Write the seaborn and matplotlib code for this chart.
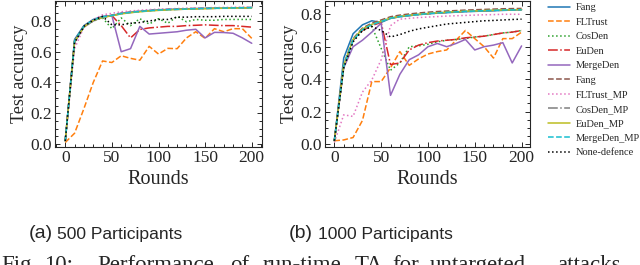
import numpy as np
import pandas as pd
import matplotlib
matplotlib.use('Agg')
import matplotlib.pyplot as plt
from matplotlib.ticker import MultipleLocator
import seaborn as sns

# rounds on the x axis
rounds = list(range(0, 201, 10))

labels = ['Fang', 'FLTrust', 'CosDen', 'EuDen', 'MergeDen', 'Fang',
          'FLTrust_MP', 'CosDen_MP', 'EuDen_MP', 'MergeDen_MP', 'None-defence']

# (a) 500 participants
fang_a = [0.02, 0.68, 0.77, 0.81, 0.83, 0.835, 0.85, 0.857, 0.863, 0.868, 0.872, 0.875, 0.877, 0.879, 0.881, 0.882, 0.883, 0.884, 0.885, 0.886, 0.887]
fltrust_a = [0.01, 0.07, 0.23, 0.40, 0.54, 0.53, 0.574, 0.557, 0.545, 0.635, 0.585, 0.622, 0.62, 0.69, 0.73, 0.687, 0.75, 0.73, 0.75, 0.75, 0.687]
cosden_a = [0.02, 0.66, 0.76, 0.80, 0.82, 0.75, 0.82, 0.77, 0.815, 0.78, 0.815, 0.785, 0.83, 0.795, 0.81, 0.805, 0.805, 0.81, 0.81, 0.81, 0.81]
euden_a = [0.02, 0.67, 0.765, 0.805, 0.825, 0.835, 0.77, 0.69, 0.745, 0.755, 0.76, 0.765, 0.765, 0.77, 0.772, 0.775, 0.772, 0.77, 0.77, 0.765, 0.76]
mergeden_a = [0.02, 0.66, 0.76, 0.80, 0.825, 0.835, 0.60, 0.62, 0.765, 0.715, 0.72, 0.725, 0.73, 0.74, 0.746, 0.69, 0.726, 0.725, 0.72, 0.69, 0.655]
fangmp_a = [0.02, 0.67, 0.765, 0.805, 0.825, 0.838, 0.85, 0.858, 0.864, 0.869, 0.873, 0.876, 0.878, 0.88, 0.882, 0.883, 0.884, 0.885, 0.886, 0.887, 0.888]
fltrustmp_a = [0.02, 0.62, 0.76, 0.81, 0.84, 0.85, 0.86, 0.865, 0.87, 0.874, 0.877, 0.879, 0.881, 0.883, 0.885, 0.886, 0.887, 0.888, 0.889, 0.89, 0.89]
cosdenmp_a = [0.02, 0.67, 0.765, 0.805, 0.825, 0.835, 0.847, 0.855, 0.861, 0.866, 0.87, 0.873, 0.875, 0.877, 0.879, 0.881, 0.882, 0.883, 0.884, 0.885, 0.886]
eudenmp_a = [0.02, 0.665, 0.762, 0.803, 0.823, 0.834, 0.846, 0.854, 0.86, 0.865, 0.869, 0.872, 0.875, 0.877, 0.879, 0.88, 0.882, 0.883, 0.884, 0.885, 0.886]
mergedenmp_a = [0.02, 0.67, 0.766, 0.806, 0.826, 0.836, 0.848, 0.856, 0.862, 0.867, 0.871, 0.874, 0.876, 0.878, 0.88, 0.882, 0.883, 0.884, 0.885, 0.886, 0.887]
none_a = [0.02, 0.66, 0.765, 0.805, 0.83, 0.775, 0.775, 0.785, 0.79, 0.80, 0.81, 0.81, 0.825, 0.825, 0.828, 0.828, 0.828, 0.83, 0.83, 0.83, 0.83]

# (b) 1000 participants
fang_b = [0.02, 0.53, 0.68, 0.735, 0.76, 0.75, 0.775, 0.785, 0.792, 0.798, 0.803, 0.807, 0.81, 0.813, 0.816, 0.818, 0.82, 0.822, 0.824, 0.826, 0.828]
fltrust_b = [0.02, 0.025, 0.04, 0.145, 0.385, 0.385, 0.47, 0.57, 0.485, 0.525, 0.555, 0.57, 0.58, 0.64, 0.70, 0.65, 0.60, 0.53, 0.65, 0.65, 0.69]
cosden_b = [0.02, 0.48, 0.64, 0.70, 0.725, 0.59, 0.455, 0.50, 0.60, 0.605, 0.615, 0.63, 0.64, 0.645, 0.65, 0.66, 0.665, 0.675, 0.685, 0.69, 0.70]
euden_b = [0.02, 0.48, 0.64, 0.70, 0.73, 0.75, 0.49, 0.50, 0.58, 0.61, 0.625, 0.635, 0.64, 0.645, 0.655, 0.66, 0.665, 0.675, 0.685, 0.69, 0.70]
mergeden_b = [0.02, 0.47, 0.60, 0.64, 0.69, 0.745, 0.30, 0.43, 0.52, 0.55, 0.60, 0.62, 0.60, 0.62, 0.645, 0.58, 0.60, 0.61, 0.625, 0.50, 0.605]
fangmp_b = [0.02, 0.49, 0.65, 0.715, 0.745, 0.765, 0.785, 0.795, 0.802, 0.808, 0.813, 0.817, 0.82, 0.823, 0.826, 0.828, 0.83, 0.832, 0.834, 0.835, 0.836]
fltrustmp_b = [0.01, 0.18, 0.17, 0.32, 0.395, 0.52, 0.73, 0.77, 0.775, 0.78, 0.783, 0.786, 0.789, 0.791, 0.793, 0.795, 0.797, 0.798, 0.80, 0.80, 0.80]
cosdenmp_b = [0.02, 0.48, 0.64, 0.705, 0.735, 0.755, 0.775, 0.785, 0.792, 0.798, 0.803, 0.807, 0.811, 0.814, 0.817, 0.819, 0.821, 0.823, 0.825, 0.826, 0.827]
eudenmp_b = [0.02, 0.485, 0.645, 0.71, 0.738, 0.757, 0.777, 0.787, 0.794, 0.80, 0.805, 0.809, 0.813, 0.816, 0.819, 0.821, 0.823, 0.825, 0.827, 0.828, 0.829]
mergedenmp_b = [0.02, 0.48, 0.64, 0.705, 0.736, 0.756, 0.776, 0.786, 0.793, 0.799, 0.804, 0.808, 0.812, 0.815, 0.818, 0.82, 0.822, 0.824, 0.826, 0.827, 0.828]
none_b = [0.02, 0.47, 0.63, 0.70, 0.725, 0.70, 0.66, 0.675, 0.695, 0.71, 0.72, 0.73, 0.74, 0.745, 0.75, 0.755, 0.76, 0.762, 0.765, 0.768, 0.77]

series_a = [fang_a, fltrust_a, cosden_a, euden_a, mergeden_a, fangmp_a,
            fltrustmp_a, cosdenmp_a, eudenmp_a, mergedenmp_a, none_a]
series_b = [fang_b, fltrust_b, cosden_b, euden_b, mergeden_b, fangmp_b,
            fltrustmp_b, cosdenmp_b, eudenmp_b, mergedenmp_b, none_b]

colors = sns.color_palette('tab10', 10).as_hex() + ['black']
styles = ['-', '--', ':', '-.', '-', '--', ':', '-.', '-', '--', ':']

sns.set_style('ticks')
plt.rcParams['font.family'] = ['Liberation Serif', 'DejaVu Serif']

W, H = 640, 265
fig = plt.figure(figsize=(W / 100, H / 100), dpi=100)


def px_box(x0, y0, x1, y1):
    return [x0 / W, 1 - y1 / H, (x1 - x0) / W, (y1 - y0) / H]


ax_a = fig.add_axes(px_box(55, 1, 262, 147))
ax_b = fig.add_axes(px_box(325, 1, 530, 147))

for ax, data, xlim, ylim in [(ax_a, series_a, (-11, 211), (-0.0195, 0.93)),
                             (ax_b, series_b, (-10, 209), (-0.0185, 0.882))]:
    for vals, lab, c, ls in zip(data, labels, colors, styles):
        df = pd.DataFrame({'Rounds': rounds, 'acc': vals})
        sns.lineplot(data=df, x='Rounds', y='acc', ax=ax, color=c,
                     linestyle=ls, linewidth=1.1, label=lab, legend=False)
    ax.set_xlim(*xlim)
    ax.set_ylim(*ylim)
    ax.xaxis.set_major_locator(MultipleLocator(50))
    ax.xaxis.set_minor_locator(MultipleLocator(10))
    ax.yaxis.set_major_locator(MultipleLocator(0.2))
    ax.yaxis.set_minor_locator(MultipleLocator(0.05))
    ax.tick_params(which='both', direction='in', top=True, right=True,
                   labelsize=12.5, width=0.7, pad=2)
    ax.tick_params(which='major', length=3.5)
    ax.tick_params(which='minor', length=2)
    for s in ax.spines.values():
        s.set_linewidth(0.8)
    ax.set_xlabel('Rounds', fontsize=14.5, labelpad=3)
    ax.set_ylabel('Test accuracy', fontsize=13, labelpad=2)
    ax.yaxis.set_major_formatter(matplotlib.ticker.FormatStrFormatter('%.1f'))

handles, labs = ax_a.get_legend_handles_labels()
fig.legend(handles, labs, loc='upper left', bbox_to_anchor=(548 / W, 1 - 3 / H),
           frameon=False, fontsize=7.5, handlelength=2.1, handletextpad=0.6,
           labelspacing=0.5, borderpad=0, borderaxespad=0)

# sub-captions
sans = ['Liberation Sans', 'DejaVu Sans']
cap_y = 1 - 234 / H
fig.text(53 / W, cap_y, '(a)', ha='right', va='center', fontsize=14, family=sans)
fig.text(57 / W, cap_y, '500 Participants', ha='left', va='center', fontsize=12.6, family=sans)
fig.text(313 / W, cap_y, '(b)', ha='right', va='center', fontsize=14, family=sans)
fig.text(318 / W, cap_y, '1000 Participants', ha='left', va='center', fontsize=12.6, family=sans)

# figure caption, cut off at the bottom as in the source
words = ['Fig.', '10:', 'Performance', 'of', 'run-time', 'TA', 'for', 'untargeted', 'attacks']
word_x = [1, 44, 97, 230, 263, 355, 392, 430, 557]
for w, x in zip(words, word_x):
    fig.text(x / W, 1 - 271 / H, w, ha='left', va='baseline', fontsize=16.5)

fig.savefig('out.png', dpi=100)
